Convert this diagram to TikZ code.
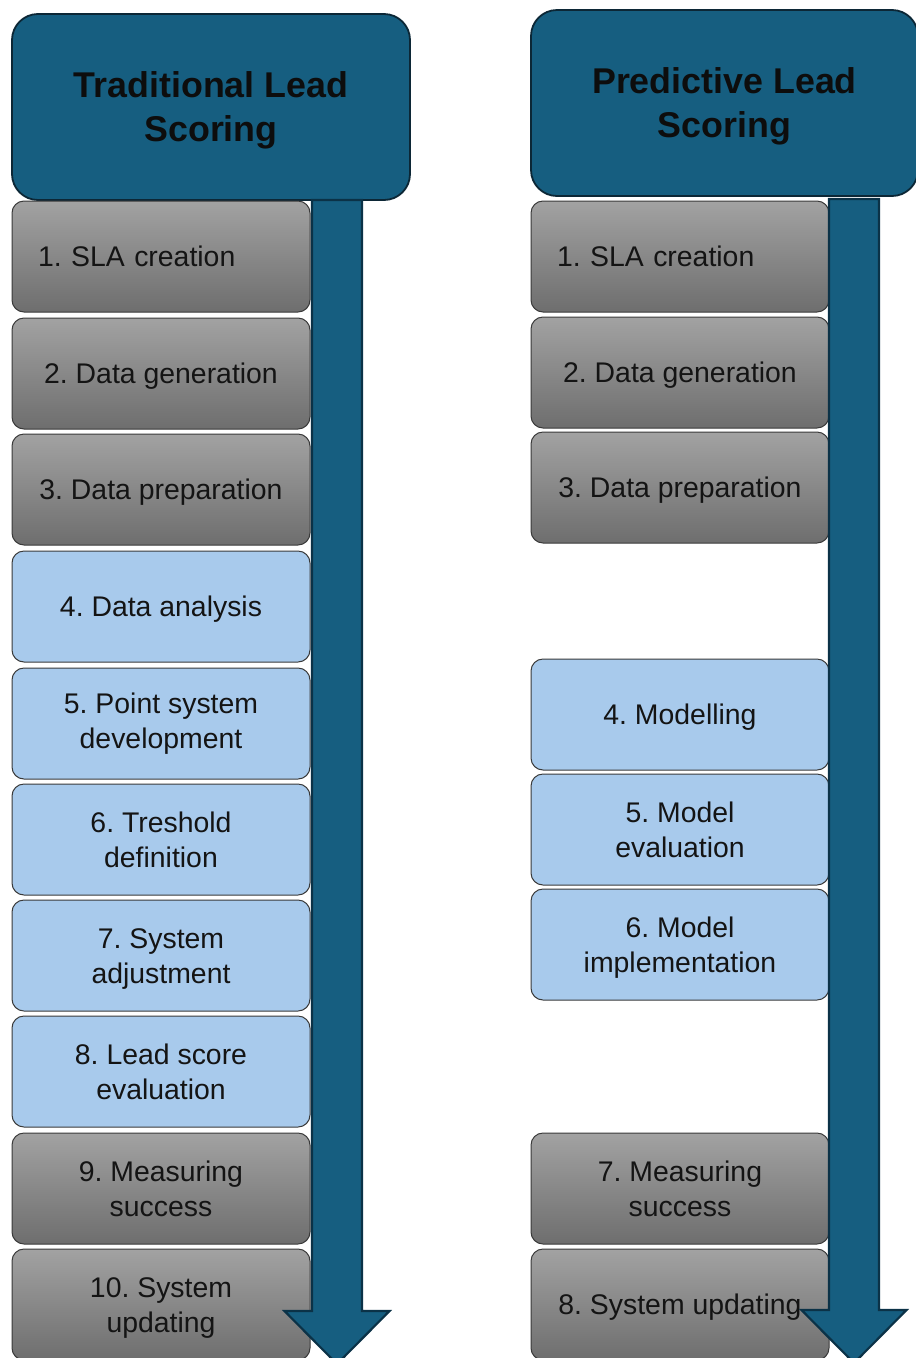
\documentclass[tikz,border=0pt]{standalone}
\usepackage{fontspec}
\setmainfont{Liberation Sans}
\frenchspacing
\definecolor{headFill}{HTML}{165E80}
\definecolor{headLine}{HTML}{0C2736}
\definecolor{arrowLine}{HTML}{0B3247}
\definecolor{greyTop}{HTML}{A2A2A2}
\definecolor{greyBot}{HTML}{6E6E6E}
\definecolor{stepBlue}{HTML}{A8CAEC}
\definecolor{boxLine}{HTML}{3A3A3A}
\begin{document}
\begin{tikzpicture}[x=1pt,y=-1pt,
  header/.style={draw=headLine, fill=headFill, line width=1.8pt, rounded corners=26pt,
    anchor=north west, align=center, inner sep=0pt, outer sep=0pt,
    minimum height=186pt, font=\fontsize{35.8}{44}\selectfont\bfseries, text=black!95,
    execute at begin node={\rule{0pt}{77pt}},
    execute at end node={\rule[-7.6pt]{0pt}{7.6pt}}},
  stepbase/.style={draw=boxLine, line width=1pt, rounded corners=12pt,
    minimum width=298pt, minimum height=111pt, anchor=north west, align=center,
    inner sep=0pt, outer sep=0pt, font=\fontsize{28.4}{34.5}\selectfont, text=black!92,
    execute at begin node={\rule{0pt}{25.7pt}},
    execute at end node={\rule[-6pt]{0pt}{6pt}}},
  twoline/.style={execute at begin node={\rule{0pt}{61pt}}},
  stepgrey/.style={stepbase, top color=greyTop, bottom color=greyBot},
  stepblue/.style={stepbase, fill=stepBlue},
  leftset/.style={align=left, text width=246pt, inner xsep=26pt},
  bigarrow/.style={fill=headFill, draw=arrowLine, line width=2.2pt, line join=miter},
]
\useasboundingbox (0,0) rectangle (916,1358);

% column headers
\node[header, minimum width=398pt] (hT) at (12,14) {Traditional Lead\\Scoring};
\node[header, minimum width=387pt] (hP) at (531,10) {Predictive Lead\\Scoring};

% traditional process steps
\node[stepgrey, leftset] (t1) at (12,201)  {1. SLA creation};
\node[stepgrey] (t2)  at (12,318)  {2. Data generation};
\node[stepgrey] (t3)  at (12,434)  {3. Data preparation};
\node[stepblue] (t4)  at (12,551)  {4. Data analysis};
\node[stepblue] (t5)  at (12,668)  {5. Point system\\development};
\node[stepblue, twoline] (t6)  at (12,784)  {6. Treshold\\definition};
\node[stepblue, twoline] (t7)  at (12,900)  {7. System\\adjustment};
\node[stepblue, twoline] (t8)  at (12,1016) {8. Lead score\\evaluation};
\node[stepgrey, twoline] (t9)  at (12,1133) {9. Measuring\\success};
\node[stepgrey, twoline] (t10) at (12,1249) {10. System\\updating};

% predictive process steps
\node[stepgrey, leftset] (p1) at (531,201) {1. SLA creation};
\node[stepgrey] (p2) at (531,317)  {2. Data generation};
\node[stepgrey] (p3) at (531,432)  {3. Data preparation};
\node[stepblue] (p4) at (531,659)  {4. Modelling};
\node[stepblue, twoline] (p5) at (531,774)  {5. Model\\evaluation};
\node[stepblue, twoline] (p6) at (531,889)  {6. Model\\implementation};
\node[stepgrey, twoline] (p7) at (531,1133) {7. Measuring\\success};
\node[stepgrey] (p8) at (531,1249) {8. System updating};

% flow arrows running down each column
\coordinate (aT) at (337,200);
\coordinate (aP) at (854,199);
\foreach \c in {aT,aP}{
  \begin{scope}[shift={(\c)}]
    \draw[bigarrow] (-25,0) -- (-25,1111) -- (-52.5,1111) -- (0,1164)
      -- (52.5,1111) -- (25,1111) -- (25,0) -- cycle;
  \end{scope}
}
\end{tikzpicture}
\end{document}
